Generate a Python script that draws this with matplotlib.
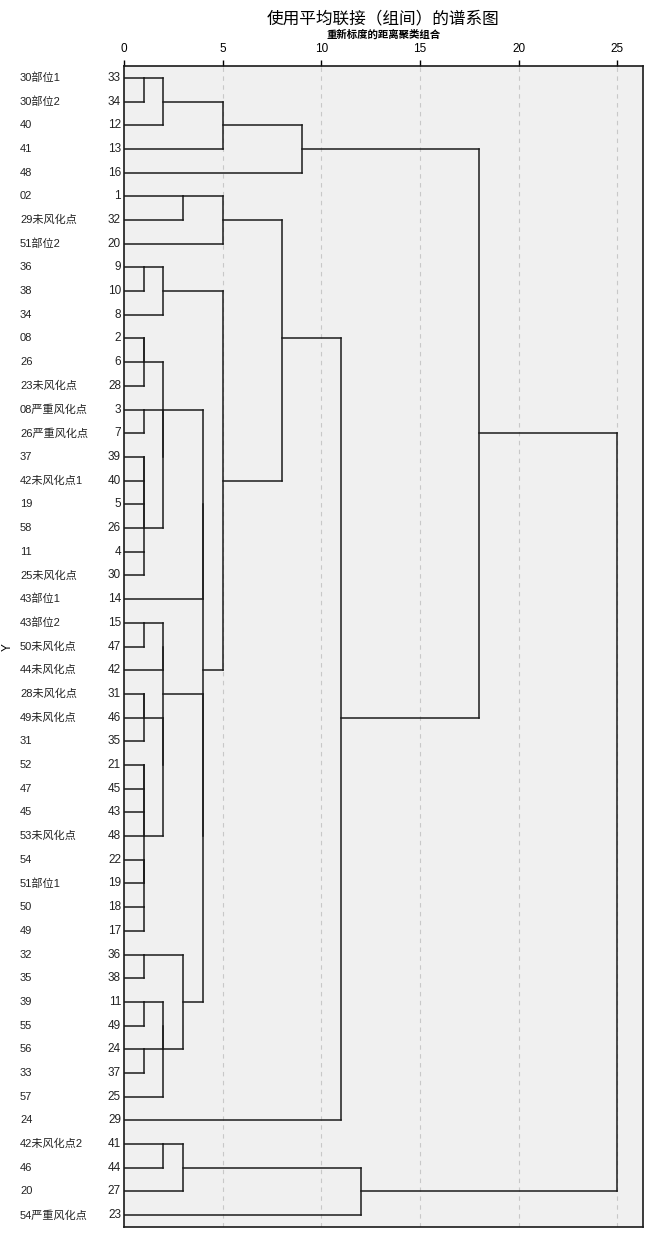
import numpy as np
import matplotlib
matplotlib.use("Agg")
import matplotlib.pyplot as plt
import matplotlib.transforms as transforms

plt.rcParams['font.family'] = ['Liberation Sans', 'Noto Sans CJK SC']

# case labels and case numbers, in the order SPSS lists them (top to bottom)
case_labels = ["30部位1", "30部位2", "40", "41", "48", "02", "29未风化点", "51部位2",
               "36", "38", "34", "08", "26", "23未风化点", "08严重风化点", "26严重风化点",
               "37", "42未风化点1", "19", "58", "11", "25未风化点", "43部位1", "43部位2",
               "50未风化点", "44未风化点", "28未风化点", "49未风化点", "31", "52", "47", "45",
               "53未风化点", "54", "51部位1", "50", "49", "32", "35", "39", "55", "56",
               "33", "57", "24", "42未风化点2", "46", "20", "54严重风化点"]
case_numbers = [33, 34, 12, 13, 16, 1, 32, 20, 9, 10, 8, 2, 6, 28, 3, 7, 39, 40, 5, 26,
                4, 30, 14, 15, 47, 42, 31, 46, 35, 21, 45, 43, 48, 22, 19, 18, 17, 36, 38,
                11, 49, 24, 37, 25, 29, 41, 44, 27, 23]

# agglomeration steps: a member case of each joined cluster and the rescaled distance
merge_a = [33, 2, 2, 3, 39, 39, 39, 4, 39, 15, 31, 31, 21, 43, 22, 18, 21, 22, 21, 36, 11, 24, 9,
           33, 9, 3, 2, 15, 31, 15, 11, 11, 41,
           1, 36, 41,
           2, 15, 2,
           33, 1, 9,
           1, 33, 1, 41, 33, 33]
merge_b = [34, 6, 28, 7, 40, 5, 26, 30, 4, 47, 46, 35, 45, 48, 19, 17, 43, 18, 22, 38, 49, 37, 10,
           12, 8, 39, 3, 42, 21, 31, 24, 25, 44,
           32, 11, 27,
           14, 36, 15,
           13, 20, 2,
           9, 16, 29, 23, 1, 41]
merge_dist = [1] * 23 + [2] * 10 + [3] * 3 + [4] * 3 + [5] * 3 + [8, 9, 11, 12, 18, 25]


def drawDendrogram(ax, numbers, m_a, m_b, m_dist, color="#1c1c1c", lw=1.1):
    # SPSS style: a joined cluster continues from the middle row of its two parts
    row_of = {n: i for i, n in enumerate(numbers)}
    cluster_of = list(range(len(numbers)))
    clusters = {i: (i, 0.0, [i]) for i in range(len(numbers))}  # id: (rep row, x start, rows)
    next_id = len(numbers)
    for a, b, d in zip(m_a, m_b, m_dist):
        ca = cluster_of[row_of[a]]
        cb = cluster_of[row_of[b]]
        rep_a, x_a, rows_a = clusters.pop(ca)
        rep_b, x_b, rows_b = clusters.pop(cb)
        ax.plot([x_a, d], [rep_a, rep_a], color=color, lw=lw, solid_capstyle='projecting', zorder=3)
        ax.plot([x_b, d], [rep_b, rep_b], color=color, lw=lw, solid_capstyle='projecting', zorder=3)
        ax.plot([d, d], [rep_a, rep_b], color=color, lw=lw, solid_capstyle='projecting', zorder=3)
        new_rep = (min(rep_a, rep_b) + max(rep_a, rep_b)) // 2
        clusters[next_id] = (new_rep, float(d), rows_a + rows_b)
        for r in rows_a + rows_b:
            cluster_of[r] = next_id
        next_id += 1


fig = plt.figure(figsize=(6.5, 12.4), dpi=100)
ax = fig.add_axes([124 / 650, 1 - 1227 / 1240, 519.3 / 650, 1161 / 1240])
ax.set_facecolor("#f0f0f0")

n_rows = len(case_numbers)
ax.set_xlim(0, 26.32)
ax.set_ylim(n_rows - 0.5, -0.5)

tick_values = [0, 5, 10, 15, 20, 25]
for t in tick_values[1:]:
    ax.axvline(t, color="#c8c8c8", lw=0.8, ls=(0, (4, 4)), zorder=1)

drawDendrogram(ax, case_numbers, merge_a, merge_b, merge_dist)

ax.xaxis.tick_top()
ax.set_xticks(tick_values)
ax.set_xticklabels([str(t) for t in tick_values])
ax.tick_params(axis='x', direction='out', length=4.5, width=1, pad=3.5, labelsize=8.5)
ax.set_yticks([])
for sp in ax.spines.values():
    sp.set_linewidth(1.2)
    sp.set_color("#1a1a1a")

# row labels: case name at far left, case number right aligned against the axis
trans = transforms.blended_transform_factory(fig.transFigure, ax.transData)
for i, (name, num) in enumerate(zip(case_labels, case_numbers)):
    ax.text(20 / 650, i, name, transform=trans, ha='left', va='center', fontsize=8, color="#222222")
    ax.text(121 / 650, i, str(num), transform=trans, ha='right', va='center', fontsize=8.5, color="#222222")

fig.text(8 / 650, 1 - 647 / 1240, "Y", rotation=90, ha='center', va='center', fontsize=8.5)
fig.text(0.590, 1 - 18 / 1240, "使用平均联接（组间）的谱系图", ha='center', va='center', fontsize=12)
fig.text(0.590, 1 - 35 / 1240, "重新标度的距离聚类组合", ha='center', va='center', fontsize=7.5,
         fontweight='bold')

fig.savefig("out.png", dpi=100)
